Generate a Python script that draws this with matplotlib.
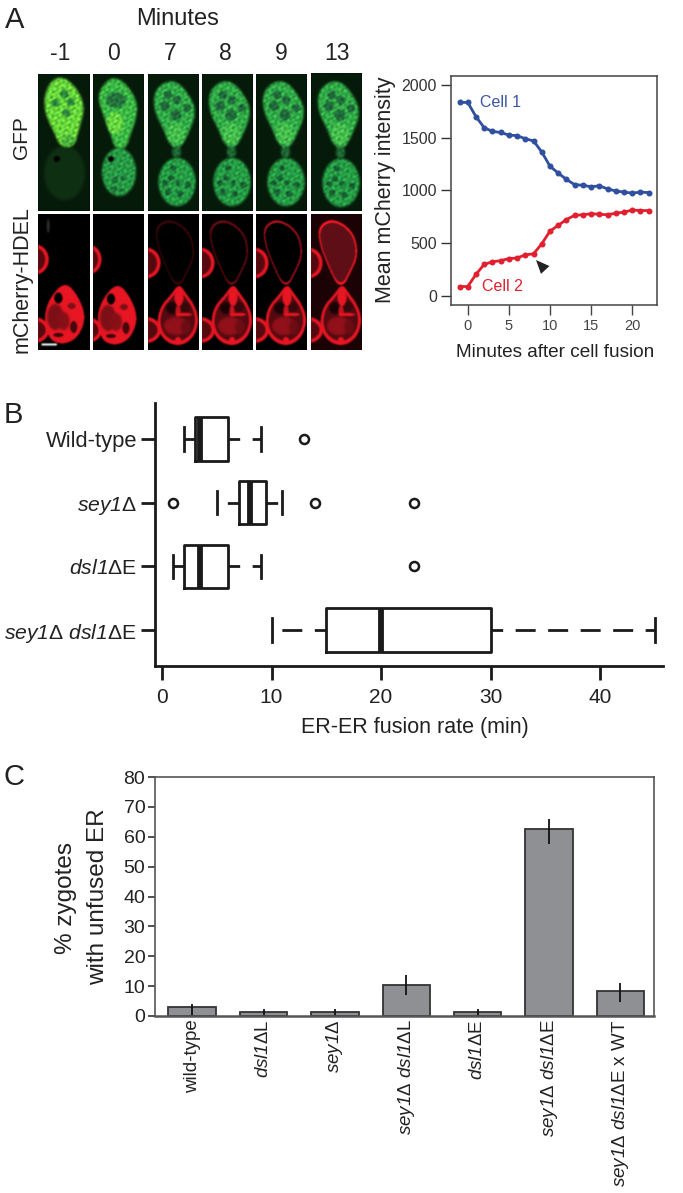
import numpy as np
import matplotlib
matplotlib.use("Agg")
import matplotlib.pyplot as plt
from matplotlib.path import Path

plt.rcParams['font.family'] = ['Liberation Sans', 'DejaVu Sans']
plt.rcParams['mathtext.fontset'] = 'custom'
plt.rcParams['mathtext.rm'] = 'Liberation Sans'
plt.rcParams['mathtext.it'] = 'Liberation Sans:italic'
# \mathbf is used as a true italic here: unlike \mathit it also slants the digits
plt.rcParams['mathtext.bf'] = 'Liberation Sans:italic'
plt.rcParams['mathtext.default'] = 'regular'

# ---------- data ----------
frame_minutes = ['-1', '0', '7', '8', '9', '13']

minutes = list(range(-1, 23))
cell1 = [1835, 1835, 1700, 1595, 1560, 1550, 1525, 1520, 1490, 1470, 1365, 1230,
         1165, 1105, 1055, 1050, 1035, 1045, 1015, 995, 985, 975, 985, 980]
cell2 = [90, 90, 205, 300, 325, 335, 355, 360, 390, 400, 495, 615,
         670, 725, 765, 770, 780, 775, 770, 785, 795, 815, 810, 810]

box_labels = ['Wild-type', r'$\mathbf{sey1}\Delta$', r'$\mathbf{dsl1}\Delta$E',
              r'$\mathbf{sey1}\Delta\ \mathbf{dsl1}\Delta$E']
box_whislo = [2, 5, 1, 10]
box_q1 = [3, 7, 2, 15]
box_med = [3.5, 8, 3.5, 20]
box_q3 = [6, 9.5, 6, 30]
box_whishi = [9, 11, 9, 45]
box_fliers = [[13], [1, 14, 23], [23], []]

bar_labels = ['wild-type', r'$\mathbf{dsl1}\Delta$L', r'$\mathbf{sey1}\Delta$',
              r'$\mathbf{sey1}\Delta\ \mathbf{dsl1}\Delta$L', r'$\mathbf{dsl1}\Delta$E',
              r'$\mathbf{sey1}\Delta\ \mathbf{dsl1}\Delta$E',
              r'$\mathbf{sey1}\Delta\ \mathbf{dsl1}\Delta$E x WT']
bar_values = [3, 1.5, 1.5, 10.5, 1.5, 62.5, 8.5]
bar_err_low = [0, 0, 0, 7, 0, 57.5, 4.7]
bar_err_high = [4, 2.2, 2.2, 13.6, 2.2, 66, 11]

# ---------- layout helpers ----------
W, H = 683, 1193
fig = plt.figure(figsize=(W / 100, H / 100), dpi=100, facecolor='white')


def ax_px(l, t, r, b, **kw):
    return fig.add_axes([l / W, 1 - b / H, (r - l) / W, (b - t) / H], **kw)


def ftext(x, y, s, **kw):
    kw.setdefault('ha', 'center')
    kw.setdefault('va', 'center')
    kw.setdefault('color', '#222222')
    fig.text(x / W, 1 - y / H, s, **kw)


# ---------- micrograph illustration ----------
PW, PH = 51, 137
SS = 2
yy, xx = np.mgrid[0:PH * SS, 0:PW * SS]
xx = (xx + 0.5) / SS
yy = (yy + 0.5) / SS
grid = np.c_[xx.ravel(), yy.ravel()]


def smooth(pts, n=3):
    p = np.asarray(pts, float)
    for _ in range(n):
        q = np.roll(p, -1, axis=0)
        p = np.c_[0.75 * p + 0.25 * q, 0.25 * p + 0.75 * q].reshape(-1, 2)
    return p


def pmask(pts, scale=1.05, dx=0, dy=0):
    p = smooth(pts)
    c = p.mean(axis=0)
    p = c + (p - c) * scale + [dx, dy]
    return Path(p).contains_points(grid).reshape(xx.shape).astype(float)


def emask(cx, cy, rx, ry):
    return (((xx - cx) / rx) ** 2 + ((yy - cy) / ry) ** 2 <= 1).astype(float)


def blur(a, k=2, it=2):
    kernel = np.ones(2 * k + 1) / (2 * k + 1)
    for _ in range(it):
        a = np.apply_along_axis(lambda m: np.convolve(m, kernel, mode='same'), 0, a)
        a = np.apply_along_axis(lambda m: np.convolve(m, kernel, mode='same'), 1, a)
    return a


def over(img, mask, col, alpha=1.0, k=1):
    m = (blur(mask, k, 2) * alpha)[..., None]
    return img * (1 - m) + np.array(col, float)[None, None, :] / 255 * m


def texture(ph=0.0, amp=0.13):
    t = (np.sin(0.83 * xx + 0.57 * yy + ph) + np.sin(1.13 * xx - 0.71 * yy + 2 * ph)
         + np.sin(0.47 * xx + 1.29 * yy - ph) + np.sin(1.37 * xx + 0.23 * yy + 3.1 * ph)
         + np.sin(0.31 * xx - 1.07 * yy + 0.6 * ph) + np.sin(0.97 * xx + 1.51 * yy + 1.7 * ph))
    return 1 + amp * t / 2


TOP_LATE = [(8, 19), (18, 9), (31, 9), (43, 24), (48, 38), (43, 54), (33, 73), (26, 73),
            (16, 53), (8, 36)]
TOP_M1 = [(6.7, 24), (13, 8), (25, 4), (38, 16), (45, 33), (40, 53), (35, 71), (21.7, 71),
          (16.7, 58), (8.3, 41)]
TOP_0 = [(5, 21), (17, 5), (30, 8), (43, 26), (43, 43), (37, 59), (33, 73), (22, 73),
         (18, 59), (10, 39)]
TOP_R = [(8, 16), (18, 8), (31, 11), (43, 23), (46, 43), (38, 60), (33, 70), (26, 70),
         (18, 53), (10, 33)]
BOT_R = [(31, 72), (38, 82), (46, 93), (50, 107), (46, 122), (35, 131), (22, 130), (12, 120),
         (10, 106), (14, 93), (23, 83)]
BOT_EARLY = [(26.7, 69), (40, 85), (46.5, 105), (39, 124), (25, 131), (11, 126), (6, 105),
             (11.7, 85.5)]
HOLES_TOP = [(21, 21, 4.3), (30, 26, 4.3), (18, 32, 5), (29, 41, 5.5), (40, 34, 4)]
HOLES_BOT = [(26, 94, 3), (24, 104, 3), (18, 109, 3), (21, 118, 3.2), (33, 120, 3.2),
             (41, 111, 3.2), (31, 109, 2.6)]


def green_panel(i):
    img = np.ones(xx.shape + (3,)) * np.array([6, 26, 10]) / 255
    if i == 0:
        img = over(img, emask(26, 99, 20, 27), (15, 48, 18), k=3)
        img = over(img, emask(18.4, 85, 3, 3), (0, 0, 0))
        img = over(img, pmask(TOP_M1), (105, 215, 60), k=2)
        img = over(img, emask(30, 67, 7, 6) * pmask(TOP_M1), (75, 180, 60), k=2)
        for c in [(17, 29, 4), (26, 20, 4.3), (32, 28, 4), (28, 39, 4)]:
            img = over(img, emask(c[0], c[1], c[2], c[2]), (45, 135, 60))
    elif i == 1:
        img = over(img, emask(26, 98, 17, 24), (40, 155, 70), k=2)
        img = over(img, emask(18, 85, 3, 3), (0, 0, 0))
        img = over(img, pmask(TOP_0), (60, 185, 70), k=2)
        img = over(img, emask(22, 49, 8, 11) * pmask(TOP_0), (105, 215, 65), k=2)
        img = over(img, emask(23, 26, 10, 8), (35, 115, 60), k=2)
        for c in [(22, 106, 3), (21, 115, 3), (30, 104, 2.5), (28, 116, 2)]:
            img = over(img, emask(c[0], c[1], c[2], c[2]), (28, 105, 55))
    else:
        dx = [0, 0, -1, 0, 0, 0][i]
        dy = [0, 0, 0, 0, 0, 1][i]
        img = over(img, emask(30 + dx, 108 + dy, 18.5, 24), (38, 158, 70), k=2)
        img = over(img, pmask(TOP_LATE, dx=dx, dy=dy), (50, 172, 72), k=2)
        img = over(img, emask(29 + dx, 60 + dy, 9, 11) * pmask(TOP_LATE, dx=dx, dy=dy),
                   (70, 190, 78), k=3)
        img = over(img, emask(29.5 + dx, 78 + dy, 4.5, 6), (30, 105, 52), k=2)
        for c in HOLES_TOP:
            img = over(img, emask(c[0] + dx, c[1] + dy, c[2], c[2]), (32, 105, 58))
        for c in HOLES_BOT:
            img = over(img, emask(c[0] + dx, c[1] + dy, c[2], c[2]), (24, 92, 50))
    t = texture(i * 1.3)[..., None]
    cell = blur((img[..., 1] > 0.3).astype(float), 2, 1)[..., None]
    img = np.clip(img * (1 + (t - 1) * cell), 0, 1)
    for c in range(3):
        img[..., c] = blur(img[..., c], 1, 1)
    return img


def red_panel(i):
    RED = (232, 22, 35)
    img = np.zeros(xx.shape + (3,))
    top_strength = [0, 0.0, 0.22, 0.4, 0.62, 0.95][i]
    if i == 5:
        img = img + np.array([28, 3, 5]) / 255
    # neighbouring cells cut by the frame
    lx, ly = [(-4, 46.5), (-6, 46.5), (-2, 50), (-2, 50), (-2, 50), (-3, 50)][i]
    for cx, cy, rx, ry in [(lx, ly, 14.5, 15.5), (lx, 117, 15, 13)]:
        img = over(img, emask(cx, cy, rx, ry), RED)
        img = over(img, emask(cx, cy, rx - 3.5, ry - 3.5), (85, 10, 15))
    if top_strength > 0:
        outer = pmask(TOP_R)
        inner = pmask(TOP_R, 0.98)
        if i == 5:
            img = over(img, outer, (95, 15, 22), k=2)
        img = over(img, outer * (1 - inner), RED, top_strength * 1.4, k=1)
    if i < 2:
        ox, oy = (0, 0) if i == 0 else (-2, 1)
        img = over(img, pmask(BOT_EARLY, 1.03, dx=ox, dy=oy), RED)
        img = over(img, emask(17 + ox, 104 + oy, 8, 13), (125, 15, 22), k=2)
        img = over(img, emask(25 + ox, 108 + oy, 6, 9), (135, 16, 24), k=2)
        img = over(img, emask(33 + ox, 93 + oy, 4, 3), (125, 15, 22))
        img = over(img, emask(35 + ox, 114 + oy, 3.5, 6), (70, 8, 12))
        img = over(img, emask(20 + ox, 122 + oy, 5, 2), (60, 5, 10))
        img = over(img, emask(20 + ox, 85 + oy, 4, 5.5), (0, 0, 0))
    else:
        bot = pmask(BOT_R)
        img = over(img, bot, RED)
        img = over(img, pmask(BOT_R, 0.9), (85, 10, 16))
        img = over(img, emask(28, 113, 12, 9), (145, 16, 26), k=2)
        img = over(img, emask(38, 114, 5, 7), (110, 12, 20), k=2)
        img = over(img, emask(24, 95, 6, 6), (25, 3, 6), k=2)
        img = over(img, emask(37, 94, 5, 5), (55, 8, 12))
        img = over(img, emask(31, 84, 4.5, 9), RED)
        img = over(img, emask(36, 101.5, 8, 1.6), RED)
        img = over(img, emask(30, 98, 2.5, 6), RED, 0.8)
        img = over(img, emask(30, 127, 3, 3), RED)
    if i == 0:
        img = over(img, emask(10, 13, 1.5, 7), (70, 70, 70), 0.6)
        img = over(img, (np.abs(yy - 131.5) < 1.2) * (np.abs(xx - 11) < 7.5) * 1.0, (255, 255, 255))
    return np.clip(img, 0, 1)


panel_x = [38.3, 93.3, 147.7, 202, 256.3, 311]
panel_w = [51.7, 50.7, 50.6, 50.7, 50.7, 50.7]
for i in range(6):
    t_off = -1.0 if i == 5 else 0
    for y0, y1, fn in [(74 + t_off, 211, green_panel), (213.5, 350, red_panel)]:
        a = ax_px(panel_x[i], y0, panel_x[i] + panel_w[i], y1)
        a.imshow(fn(i), extent=(0, PW, PH, 0), aspect='auto', interpolation='bilinear')
        a.set_axis_off()

TXT = '#222222'
ftext(15, 28, 'A', fontsize=21, va='baseline')
ftext(178, 19, 'Minutes', fontsize=17)
for x, m in zip([60, 114, 170, 225, 281, 337], frame_minutes):
    ftext(x, 54, m, fontsize=16.5)
ftext(22, 138, 'GFP', rotation=90, fontsize=15)
ftext(22, 280, 'mCherry-HDEL', rotation=90, fontsize=15.5)

# ---------- panel A line chart ----------
ax = ax_px(450.7, 76, 656.7, 305)
BLUE, RED_L = '#2f4f9f', '#e0202f'
ax.plot(minutes, cell1, '-o', color=BLUE, lw=2, ms=3.3)
ax.plot(minutes, cell2, '-o', color=RED_L, lw=2, ms=3.3)
ax.set_xlim(-2.07, 22.97)
ax.set_ylim(-85, 2085)
ax.set_xticks([0, 5, 10, 15, 20])
ax.set_yticks([0, 500, 1000, 1500, 2000])
ax.tick_params(axis='x', labelsize=10.5, colors='#444444', length=7, width=1, pad=3)
ax.tick_params(axis='y', labelsize=11.5, colors='#333333', length=7, width=1, pad=3)
for s in ax.spines.values():
    s.set_color('#444444')
    s.set_linewidth(1.1)
ax.text(1.5, 1830, 'Cell 1', color='#3a55a5', fontsize=11.5, va='center')
ax.text(1.7, 95, 'Cell 2', color='#e0202f', fontsize=11.5, va='center')
ax.annotate('', xy=(8.3, 341), xytext=(9.8, 215),
            arrowprops=dict(arrowstyle='-|>,head_length=0.75,head_width=0.32', color='#222222',
                            lw=0, shrinkA=0, shrinkB=0, mutation_scale=13))
ftext(555.5, 352.5, 'Minutes after cell fusion', fontsize=13.7)
ftext(385, 190, 'Mean mCherry intensity', rotation=90, fontsize=15.5)

# ---------- panel B boxplot ----------
ftext(13, 423, 'B', fontsize=21, va='baseline')
ax = ax_px(155, 403, 663, 666)
positions = [4, 3, 2, 1]
stats = [dict(whislo=a, q1=b, med=c, q3=d, whishi=e, fliers=f)
         for a, b, c, d, e, f in zip(box_whislo, box_q1, box_med, box_q3, box_whishi, box_fliers)]
DK = '#1a1a1a'
ax.bxp(stats, positions=positions, orientation='horizontal', widths=0.68,
       boxprops=dict(color=DK, lw=2),
       medianprops=dict(color=DK, lw=4.2, solid_capstyle='butt'),
       whiskerprops=dict(color=DK, lw=2, ls=(3, (7.2, 4.5))),
       capprops=dict(color=DK, lw=2),
       flierprops=dict(marker='o', ms=6.5, mfc='white', mec=DK, mew=1.8),
       capwidths=0.37)
ax.set_xlim(-0.64, 45.75)
ax.set_ylim(0.435, 4.565)
ax.set_yticks(positions)
ax.set_yticklabels(box_labels)
ax.set_xticks([0, 10, 20, 30, 40])
ax.tick_params(axis='both', length=10, width=2, color=DK, labelcolor=TXT, labelsize=15, pad=6)
ax.tick_params(axis='y', pad=3, labelsize=15.8)
for lab in ax.get_yticklabels()[1:]:
    lab.set_fontsize(15.2)
for s in ['top', 'right']:
    ax.spines[s].set_visible(False)
for s in ['left', 'bottom']:
    ax.spines[s].set_linewidth(2)
    ax.spines[s].set_color(DK)
ftext(415, 728, 'ER-ER fusion rate (min)', fontsize=15.5)

# ---------- panel C bars ----------
ftext(14, 785, 'C', fontsize=21, va='baseline')
ax = ax_px(155, 777, 654, 1016)
x = np.arange(len(bar_values))
ax.bar(x, bar_values, width=0.665, color='#8e9094', edgecolor='#333333', lw=1.3)
ax.vlines(x, bar_err_low, bar_err_high, color='#111111', lw=1.3)
ax.set_xlim(-0.52, 6.47)
ax.set_ylim(0, 80)
ax.set_yticks(range(0, 81, 10))
ax.set_xticks(x)
ax.set_xticklabels(bar_labels, rotation=90, fontsize=13.5, color=TXT)
ax.tick_params(axis='x', length=0, pad=2.5)
ax.tick_params(axis='y', labelsize=14, length=5, width=1.2, pad=2, color='#333333', labelcolor=TXT)
for s in ax.spines.values():
    s.set_color('#555555')
    s.set_linewidth(1.2)
ax.spines['bottom'].set_linewidth(1.8)
ftext(66, 898, '% zygotes', rotation=90, fontsize=17.5)
ftext(98, 897, 'with unfused ER', rotation=90, fontsize=17.5)

fig.savefig('out.png', dpi=100, facecolor='white')
